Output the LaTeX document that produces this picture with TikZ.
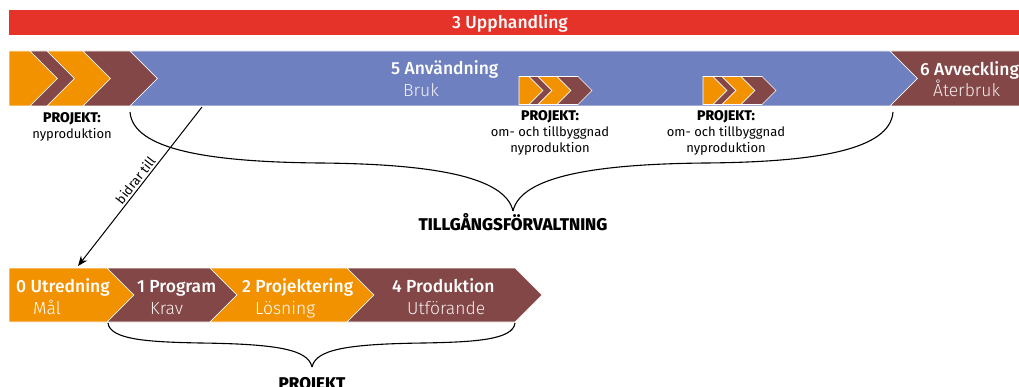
\documentclass[tikz,border=0pt]{standalone}
\usepackage{fontspec}
\setmainfont{Fira Sans}
\newfontfamily\phasefont{Fira Sans Medium}
\newfontfamily\subfont{Fira Sans Light}
\newfontfamily\heavyfont{Fira Sans ExtraBold}
\usetikzlibrary{arrows.meta, positioning, calc}
\definecolor{upphred}{HTML}{E5332A}
\definecolor{brukblue}{HTML}{6E80BF}
\definecolor{projbrown}{HTML}{834747}
\definecolor{projorange}{HTML}{F39200}

% chevron: colour, x left, x right, y top, height
\newcommand{\chev}[5]{%
  \fill[#1, draw=white, line width=0.6pt] (#2,#4) -- (#3,#4) -- ++(#5/2,#5/2)
    -- (#3,#4+#5) -- (#2,#4+#5) -- ++(#5/2,-#5/2) -- cycle;}
\newcommand{\chevflat}[5]{%
  \fill[#1, draw=white, line width=0.6pt] (#2,#4) -- (#3,#4) -- ++(#5/2,#5/2)
    -- (#3,#4+#5) -- (#2,#4+#5) -- cycle;}
\newcommand{\projhead}{{\heavyfont\fontsize{14}{16}\selectfont PROJEKT:}}

\begin{document}
\begin{tikzpicture}[x=1pt, y=-1pt,
    phase/.style={anchor=base west, inner sep=0pt, text=white, font=\phasefont\fontsize{17.5}{20}\selectfont},
    phasesub/.style={phase, font=\subfont\fontsize{17.5}{20}\selectfont},
    projlabel/.style={anchor=north, align=center, inner sep=0pt, font=\fontsize{13}{16}\selectfont},
    bracetitle/.style={anchor=base, inner sep=0pt, font=\heavyfont\fontsize{17}{19}\selectfont},
    brace/.style={line width=1.1pt, black}]
\useasboundingbox (0,0) rectangle (1019,387);
\clip (0,0) rectangle (1019,387);

% upphandling
\fill[upphred] (9,10) rectangle (1019,35);
\node[phase, anchor=base] (upph) at (510,28.5) {3 Upphandling};

% anvandning row
\chevflat{projorange}{9}{30}{51}{55}
\chev{projbrown}{30}{47}{51}{55}
\chev{projorange}{47}{83}{51}{55}
\chev{projbrown}{83}{130}{51}{55}
\chev{brukblue}{130}{890}{51}{55}
\fill[projbrown, draw=white, line width=0.6pt] (890,51) -- (1025,51) -- (1025,106) -- (890,106) -- (917.5,78.5) -- cycle;

\node[phase] (anv) at (391,75) {5 Användning};
\node[phasesub, text=white!90!brukblue] (bruk) at (403,97) {Bruk};
\node[phase] (avv) at (920,76) {6 Avveckling};
\node[phasesub, text=white!90!projbrown] (ater) at (933,97) {Återbruk};

% small projects in the bar
\chevflat{projorange}{519}{529}{76.5}{28}
\chev{projbrown}{529}{538}{76.5}{28}
\chev{projorange}{538}{557}{76.5}{28}
\chev{projbrown}{557}{578}{76.5}{28}
\chevflat{projorange}{703}{713}{76.5}{28}
\chev{projbrown}{713}{722}{76.5}{28}
\chev{projorange}{722}{741}{76.5}{28}
\chev{projbrown}{741}{762}{76.5}{28}

\node[projlabel] (proj-ny) at (72,112) {\projhead\\nyproduktion};
\node[projlabel] (proj-om1) at (550,110) {\projhead\\om- och tillbyggnad\\nyproduktion};
\node[projlabel] (proj-om2) at (726,110) {\projhead\\om- och tillbyggnad\\nyproduktion};

% projekt row
\chevflat{projorange}{9}{107}{268}{54}
\chev{projbrown}{107}{210}{268}{54}
\chev{projorange}{210}{347}{268}{54}
\chev{projbrown}{347}{515}{268}{54}

\node[phase] (utr) at (16,292) {0 Utredning};
\node[phasesub] (mal) at (33,314) {Mål};
\node[phase] (prog) at (137,292) {1 Program};
\node[phasesub, text=white!90!projbrown] (krav) at (150,314) {Krav};
\node[phase] (proj) at (242,292) {2 Projektering};
\node[phasesub] (losn) at (255,314) {Lösning};
\node[phase] (prod) at (392,292) {4 Produktion};
\node[phasesub, text=white!90!projbrown] (utf) at (407,314) {Utförande};

% tillgangsforvaltning brace
\coordinate (tf-l) at (130,112);
\coordinate (tf-r) at (893,112);
\coordinate (tf-ml) at (320,163);
\coordinate (tf-mr) at (706,163);
\coordinate (tf-tip) at (513,211);
\draw[brace] (tf-l) .. controls +(3,38) and +(-110,-1) .. (tf-ml)
  .. controls +(110,1) and +(-8,-35) .. (tf-tip);
\draw[brace] (tf-r) .. controls +(-3,38) and +(110,-1) .. (tf-mr)
  .. controls +(-110,1) and +(8,-35) .. (tf-tip);
\node[bracetitle] (tf) at (513,231) {TILLGÅNGSFÖRVALTNING};

% projekt brace
\coordinate (pr-l) at (108,323);
\coordinate (pr-r) at (515,323);
\coordinate (pr-ml) at (200,343);
\coordinate (pr-mr) at (424,343);
\coordinate (pr-tip) at (312,367);
\draw[brace] (pr-l) .. controls +(2,17) and +(-50,-1) .. (pr-ml)
  .. controls +(80,1) and +(-4,-17) .. (pr-tip);
\draw[brace] (pr-r) .. controls +(-2,17) and +(50,-1) .. (pr-mr)
  .. controls +(-80,1) and +(4,-17) .. (pr-tip);
\node[bracetitle] (pr) at (312,389) {PROJEKT};

% bidrar till
\coordinate (bidr) at (202,107);
\coordinate (utr-in) at (78,266);
\draw[line width=1pt, -{Stealth[length=10pt, width=8pt]}] (bidr) --
  node[pos=0.49, sloped, above=2pt, inner sep=0pt, font=\fontsize{13}{15}\selectfont] {bidrar till} (utr-in);
\end{tikzpicture}
\end{document}
